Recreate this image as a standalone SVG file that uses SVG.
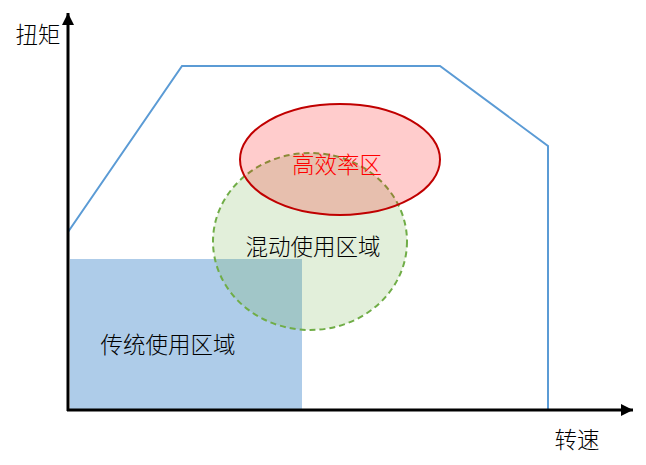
<svg xmlns="http://www.w3.org/2000/svg" width="646" height="465" viewBox="0 0 646 465">
<style>
text{font-family:"Noto Sans CJK SC","Noto Sans",sans-serif;font-size:22.5px;font-weight:300;fill:#000;text-anchor:middle;dominant-baseline:central}
</style>
<defs>
<marker id="ah" markerWidth="12" markerHeight="12" refX="12" refY="6" orient="auto" markerUnits="userSpaceOnUse">
<path d="M0,0 L12,6 L0,12 Z" fill="#000"/>
</marker>
</defs>
<rect width="646" height="465" fill="#fff"/>
<g id="traditional">
<rect x="70" y="259" width="232" height="150" fill="#AECCE9"/>
</g>
<g id="hybrid">
<ellipse cx="310" cy="241.5" rx="97" ry="88.5" fill="#70AD47" fill-opacity="0.2" stroke="#70AD47" stroke-width="2" stroke-dasharray="6,4"/>
</g>
<g id="efficiency">
<ellipse cx="340" cy="159.5" rx="100" ry="55.5" fill="#FF0000" fill-opacity="0.2" stroke="#C00000" stroke-width="2"/>
</g>
<g id="envelope">
<polyline points="68,232 182,66 440,66 548,146 548,409" fill="none" stroke="#5B9BD5" stroke-width="2"/>
</g>
<g id="connectors">
<line x1="68" y1="411" x2="68" y2="13" stroke="#000" stroke-width="3" marker-end="url(#ah)"/>
<line x1="67" y1="410" x2="633" y2="410" stroke="#000" stroke-width="3" marker-end="url(#ah)"/>
</g>
<g id="labels">
<text x="38" y="33">扭矩</text>
<text x="577" y="438">转速</text>
<text x="337" y="163" style="fill:#FF0000">高效率区</text>
<text x="313" y="245">混动使用区域</text>
<text x="168" y="343">传统使用区域</text>
</g>
</svg>
